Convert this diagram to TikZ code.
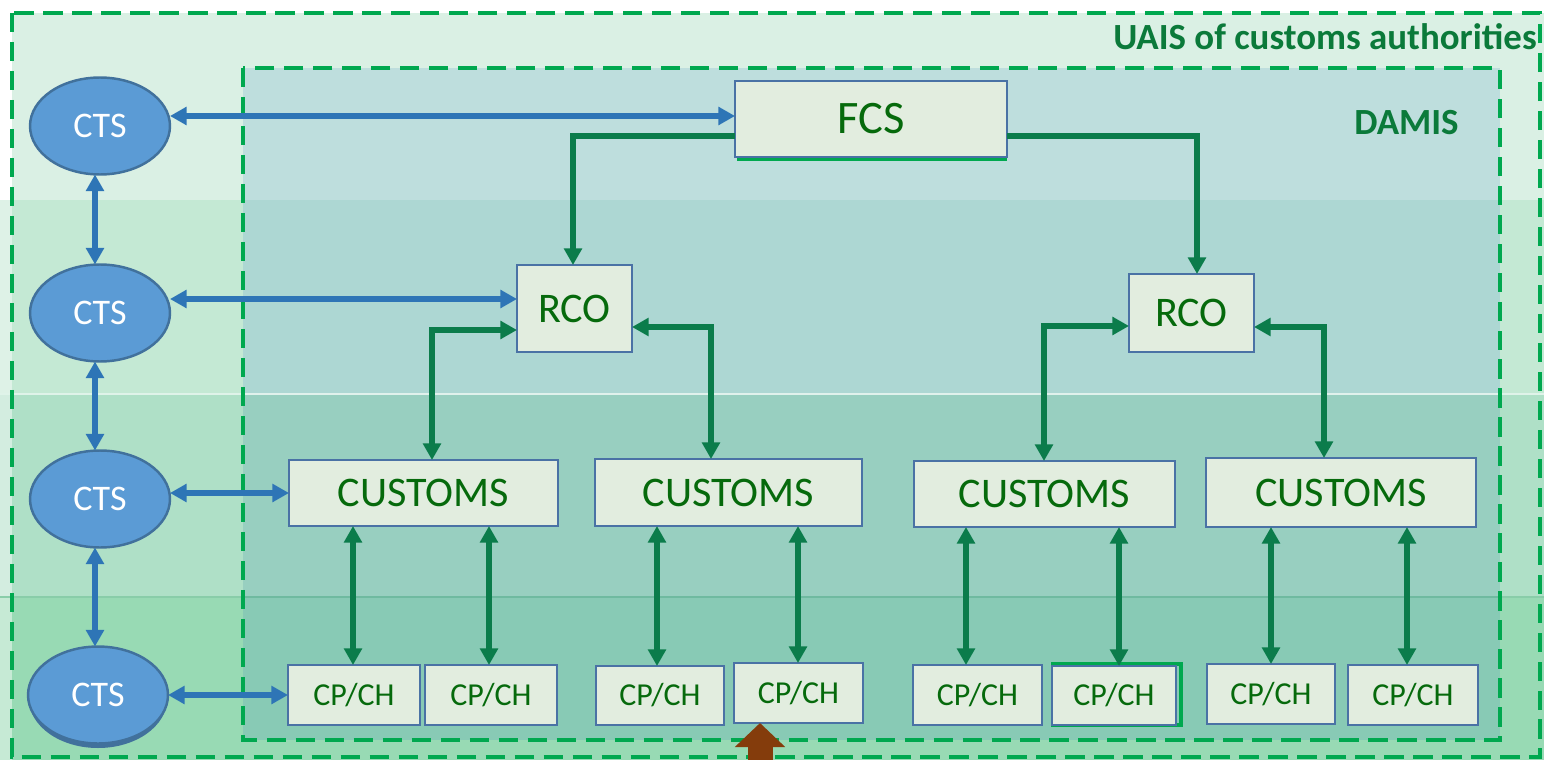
\documentclass[tikz,border=0pt]{standalone}
\usepackage{fontspec}
\setmainfont{Carlito}
\usetikzlibrary{arrows.meta,shapes.geometric,calc}

\definecolor{bandA}{HTML}{DAF0E4}
\definecolor{bandB}{HTML}{C4E9D4}
\definecolor{bandC}{HTML}{AFE0C7}
\definecolor{bandD}{HTML}{98DAB4}
\definecolor{inA}{HTML}{BEDEDD}
\definecolor{inB}{HTML}{ADD7D3}
\definecolor{inC}{HTML}{98CFC0}
\definecolor{inD}{HTML}{88CAB5}
\definecolor{dashgreen}{HTML}{00A84F}
\definecolor{titlegreen}{HTML}{0B7A3A}
\definecolor{textgreen}{HTML}{066A0C}
\definecolor{linkgreen}{HTML}{0B7C4B}
\definecolor{linkblue}{HTML}{2E75B6}
\definecolor{ctsfill}{HTML}{5B9BD5}
\definecolor{ctsedge}{HTML}{41719C}
\definecolor{boxfill}{HTML}{E2EDDF}
\definecolor{boxedge}{HTML}{4A72A5}
\definecolor{inbound}{HTML}{843C0C}

% rectangular unit given by its corners
\newcommand\unitbox[7]{%
  \node[unit,#7,minimum width={(#4-#2)*0.02cm},minimum height={(#5-#3)*0.02cm}]
    (#1) at ({(#2+#4)/2},{(#3+#5)/2}) {#6};}

\begin{document}
\begin{tikzpicture}[x=0.02cm,y=-0.02cm,
  >={Triangle[length=9.5pt,width=10pt]},
  frame/.style={draw=dashgreen,line width=2.8pt,dash pattern=on 11pt off 5.5pt},
  unit/.style={draw=boxedge,fill=boxfill,line width=1.4pt,text=textgreen,
    inner sep=0pt,outer sep=0pt},
  cts/.style={ellipse,draw=ctsedge,fill=ctsfill,line width=1.4pt,text=white,
    font=\fontsize{20.5}{24}\selectfont,minimum width=2.8cm,minimum height=1.94cm,
    inner sep=0pt,outer sep=0pt},
  blink/.style={draw=linkblue,line width=2.9pt,<->},
  glink/.style={draw=linkgreen,line width=3.3pt,<->},
  gone/.style={draw=linkgreen,line width=3.3pt,->},
  fbig/.style={font=\fontsize{26.5}{30}\selectfont},
  fmid/.style={font=\fontsize{24}{28}\selectfont},
  fsmall/.style={font=\fontsize{18.2}{21}\selectfont},
  title/.style={text=titlegreen,font=\bfseries\fontsize{21}{25}\selectfont,inner sep=0pt}]

\useasboundingbox (0,0) rectangle (1544,760);

% horizontal background bands
\fill[bandA] (12,13) rectangle (1544,200);
\fill[bandB] (0,200) rectangle (1544,393);
\fill[bandC] (0,393) rectangle (1544,597);
\fill[bandD] (0,597) rectangle (1544,760);
\fill[white,opacity=0.45] (0,200) rectangle (12,760);
\draw[white!60!bandC,line width=1.2pt] (0,394) -- (1544,394);
\draw[bandD!80!linkgreen!90,line width=1.5pt] (0,597) -- (1544,597);

% DAMIS area
\fill[inA] (243,68) rectangle (1500,200);
\fill[inB] (243,200) rectangle (1500,393);
\fill[inC] (243,393) rectangle (1500,597);
\fill[inD] (243,597) rectangle (1500,740);
\draw[white!70!inC,line width=1.2pt] (243,394) -- (1500,394);
\draw[inD!80!linkgreen,line width=1.5pt] (243,597) -- (1500,597);

% dashed boundaries and their titles
\draw[frame] (12,13) rectangle (1540,757);
\draw[frame] (243,68) rectangle (1500,740);
\node[title,anchor=base east] (uais) at (1537,50) {UAIS of customs authorities};
\node[title,anchor=base east] (damis) at (1459,135) {DAMIS};

% CTS terminals
\node[cts] (cts1) at (100,126) {CTS};
\node[cts] (cts2) at (100,313) {CTS};
\node[cts] (cts3) at (100,499) {CTS};
\fill[ctsedge] (98,699) ellipse [x radius=69, y radius=49];
\node[cts] (cts4) at (98,695) {CTS};

% units
\draw[dashgreen,line width=2pt] (737,159) -- (1007,159);
\unitbox{FCS}{735}{81}{1007}{157}{FCS}{fbig}
\unitbox{RCO1}{517}{265}{632}{352}{RCO}{fmid}
\unitbox{RCO2}{1129}{274}{1254}{352}{RCO}{fmid}
\unitbox{C1}{289}{460}{558}{526}{CUSTOMS}{fmid}
\unitbox{C2}{595}{459}{862}{526}{CUSTOMS}{fmid}
\unitbox{C3}{914}{461}{1175}{527}{CUSTOMS}{fmid}
\unitbox{C4}{1206}{458}{1476}{527}{CUSTOMS}{fmid}
\unitbox{P1}{288}{665}{420}{725}{CP/CH}{fsmall}
\unitbox{P2}{425}{665}{557}{725}{CP/CH}{fsmall}
\unitbox{P3}{596}{666}{724}{725}{CP/CH}{fsmall}
\unitbox{P4}{734}{663}{863}{723}{CP/CH}{fsmall}
\unitbox{P5}{913}{665}{1042}{725}{CP/CH}{fsmall}
\draw[dashgreen,line width=1.8pt] (1053,664) rectangle (1181,725);
\unitbox{P6}{1052}{666}{1176}{725}{CP/CH}{fsmall}
\unitbox{P7}{1207}{664}{1335}{724}{CP/CH}{fsmall}
\unitbox{P8}{1348}{665}{1478}{725}{CP/CH}{fsmall}

% links between the CTS terminals
\coordinate (vx) at (95,0);
\draw[blink] (cts1.south -| vx) -- (cts2.north -| vx);
\draw[blink] (cts2.south -| vx) -- (cts3.north -| vx);
\draw[blink] (cts3.south -| vx) -- (cts4.north -| vx);

% links from CTS into DAMIS
\coordinate (h1) at (0,116);
\coordinate (h2) at (0,299);
\draw[blink] (cts1.east |- h1) -- (FCS.west |- h1);
\draw[blink] (cts2.east |- h2) -- (RCO1.west |- h2);
\draw[blink] (cts3.east |- C1.west) -- (C1.west);
\draw[blink] (cts4.east |- P1.west) -- (P1.west);

% FCS to regional offices
\coordinate (f1) at (573,136);
\coordinate (f2) at (1197,136);
\draw[gone] (FCS.west |- f1) -| (RCO1.north -| f1);
\draw[gone] (FCS.east |- f2) -| (RCO2.north -| f2);

% regional offices to customs
\coordinate (g1) at (432,330);
\coordinate (g2) at (711,327);
\coordinate (g3) at (1044,326);
\coordinate (g4) at (1324,327);
\draw[glink] (RCO1.west |- g1) -| (C1.north -| g1);
\draw[glink] (RCO1.east |- g2) -| (C2.north -| g2);
\draw[glink] (RCO2.west |- g3) -| (C3.north -| g3);
\draw[glink] (RCO2.east |- g4) -| (C4.north -| g4);

% customs to checkpoints
\foreach \c/\p/\x in {C1/P1/353,C1/P2/489,C2/P3/657,C2/P4/798,
                      C3/P5/966,C3/P6/1119,C4/P7/1271,C4/P8/1407}{
  \coordinate (v) at (\x,0);
  \draw[glink] (\c.south -| v) -- (\p.north -| v);
}

% incoming feed
\coordinate (feed) at (760,772);
\draw[inbound,line width=0.5cm,-{Triangle[length=0.48cm,width=0.98cm]}]
  (feed) -- (feed |- P4.south);

\end{tikzpicture}
\end{document}
